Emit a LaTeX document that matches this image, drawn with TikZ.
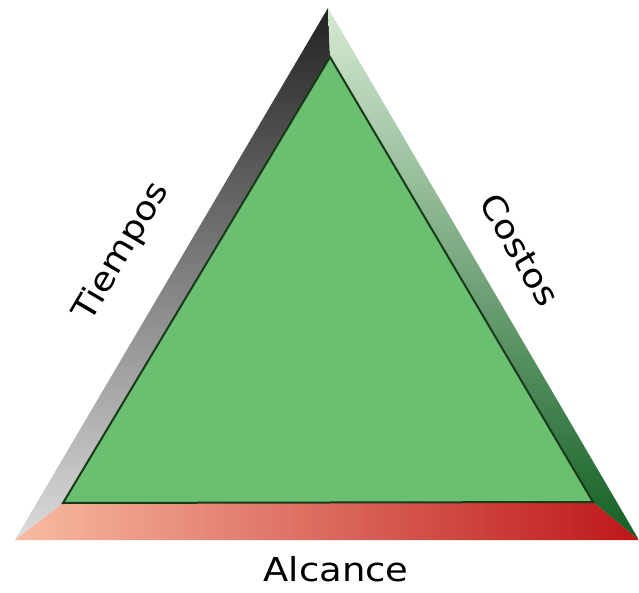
\documentclass[tikz,border=0pt]{standalone}
\usepackage{fontspec}
\newfontfamily\labfont[FakeStretch=1.12]{DejaVu Sans}
\definecolor{innergreen}{HTML}{6BBF70}
\definecolor{innerline}{HTML}{173A19}
\definecolor{darkgrey}{HTML}{222222}
\definecolor{lightgrey}{HTML}{DCDCDC}
\definecolor{lightgreen}{HTML}{D6EAD3}
\definecolor{darkgreen}{HTML}{136024}
\definecolor{salmon}{HTML}{F8BBA2}
\definecolor{deepred}{HTML}{BE1619}
\tikzset{
  lab/.style={font=\labfont\fontsize{33}{38}\selectfont, text=black, inner sep=0pt},
  band/.style={draw=none}
}
\begin{document}
\begin{tikzpicture}[x=1pt,y=-1pt]
\useasboundingbox (0,0) rectangle (639,593);
\fill[white] (0,0) rectangle (639,593);
% outer and inner corners
\coordinate (OA) at (328,8);
\coordinate (OL) at (15,540);
\coordinate (OR) at (639,540);
\coordinate (IA) at (330,57);
\coordinate (IL) at (63,503);
\coordinate (IR) at (593,502);
% left band
\shade[band, top color=darkgrey, bottom color=lightgrey] (OA) -- (OL) -- (IL) -- (IA) -- cycle;
% right band
\shade[band, top color=lightgreen, bottom color=darkgreen] (OA) -- (IA) -- (IR) -- (OR) -- cycle;
% bottom band
\shade[band, left color=salmon, right color=deepred] (OL) -- (OR) -- (IR) -- (IL) -- cycle;
% inner triangle
\filldraw[fill=innergreen, draw=innerline, line width=2pt, line join=miter] (IA) -- (IL) -- (IR) -- cycle;
% labels
\node[lab, rotate=59.5] (tiempos) at (122,252) {Tiempos};
\node[lab, rotate=-59.7] (costos) at (520,250) {Costos};
\node[lab] (alcance) at (336,569) {Alcance};
\end{tikzpicture}
\end{document}
